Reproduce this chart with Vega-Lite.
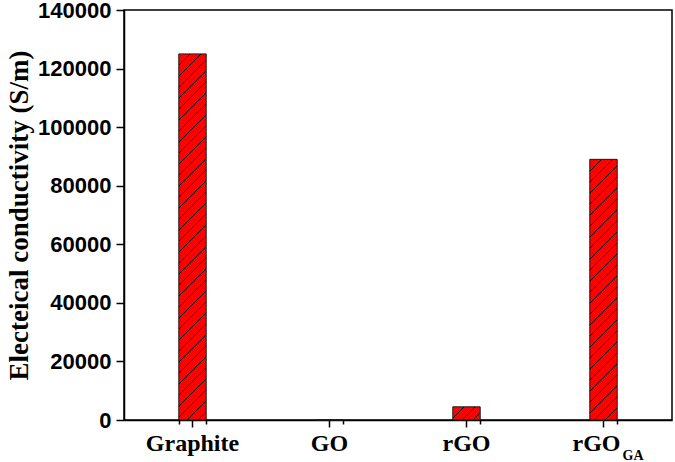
{
  "$schema": "https://vega.github.io/schema/vega-lite/v6.json",
  "width": 548,
  "height": 410,
  "autosize": {"type": "none"},
  "padding": {"left": 124, "top": 10, "right": 3, "bottom": 42},
  "background": "white",
  "config": {
    "view": {"stroke": "#000", "strokeWidth": 1.5},
    "axis": {"domainColor": "#000", "domainWidth": 1.5, "tickColor": "#000", "tickWidth": 1.5, "labelColor": "#000", "titleColor": "#000", "grid": false}
  },
  "data": {"values": [
    {"material": "Graphite", "conductivity": 125000},
    {"material": "GO", "conductivity": 0},
    {"material": "rGO", "conductivity": 4500},
    {"material": "rGO_GA", "conductivity": 89000}
  ]},
  "layer": [
    {
      "mark": {"type": "bar", "stroke": "#1a1a1a", "strokeWidth": 1},
      "encoding": {
        "x": {"field": "material", "type": "nominal", "sort": null,
          "scale": {"paddingInner": 0.8, "paddingOuter": 0.4},
          "axis": {"orient": "bottom", "title": null, "labelAngle": 0, "tickSize": 7, "labelPadding": 4,
            "labelFont": "Liberation Serif", "labelFontWeight": "bold", "labelFontSize": 24,
            "labelExpr": "datum.value === 'rGO_GA' ? 'rGO' : datum.value",
            "labelOffset": {"condition": {"test": "datum.value === 'rGO_GA'", "value": -7}, "value": 0}}},
        "y": {"field": "conductivity", "type": "quantitative",
          "scale": {"domain": [0, 140000], "nice": false},
          "axis": {"title": "Electeical conductivity (S/m)", "titleFont": "Liberation Serif", "titleFontWeight": "bold", "titleFontSize": 27, "titlePadding": 4,
            "values": [0, 10000, 20000, 30000, 40000, 50000, 60000, 70000, 80000, 90000, 100000, 110000, 120000, 130000, 140000],
            "format": "d",
            "labelExpr": "datum.value % 20000 === 0 ? datum.label : ''",
            "tickSize": {"condition": {"test": "datum.value % 20000 === 0", "value": 8}, "value": 4},
            "labelFont": "Liberation Sans", "labelFontWeight": "bold", "labelFontSize": 22, "labelPadding": 5}},
        "fill": {
          "condition": [
            {"test": "datum.material === 'Graphite'", "value": {"gradient": "linear", "x1": 0, "y1": 0, "x2": 0.089464, "y2": 1.19526, "stops": [
              {"offset":0,"color":"#000"},{"offset":0.0028,"color":"#000"},{"offset":0.0028,"color":"red"},{"offset":0.025,"color":"red"},
              {"offset":0.025,"color":"#000"},{"offset":0.0278,"color":"#000"},{"offset":0.0278,"color":"red"},{"offset":0.05,"color":"red"},
              {"offset":0.05,"color":"#000"},{"offset":0.0528,"color":"#000"},{"offset":0.0528,"color":"red"},{"offset":0.075,"color":"red"},
              {"offset":0.075,"color":"#000"},{"offset":0.0778,"color":"#000"},{"offset":0.0778,"color":"red"},{"offset":0.1,"color":"red"},
              {"offset":0.1,"color":"#000"},{"offset":0.1028,"color":"#000"},{"offset":0.1028,"color":"red"},{"offset":0.125,"color":"red"},
              {"offset":0.125,"color":"#000"},{"offset":0.1278,"color":"#000"},{"offset":0.1278,"color":"red"},{"offset":0.15,"color":"red"},
              {"offset":0.15,"color":"#000"},{"offset":0.1528,"color":"#000"},{"offset":0.1528,"color":"red"},{"offset":0.175,"color":"red"},
              {"offset":0.175,"color":"#000"},{"offset":0.1778,"color":"#000"},{"offset":0.1778,"color":"red"},{"offset":0.2,"color":"red"},
              {"offset":0.2,"color":"#000"},{"offset":0.2028,"color":"#000"},{"offset":0.2028,"color":"red"},{"offset":0.225,"color":"red"},
              {"offset":0.225,"color":"#000"},{"offset":0.2278,"color":"#000"},{"offset":0.2278,"color":"red"},{"offset":0.25,"color":"red"},
              {"offset":0.25,"color":"#000"},{"offset":0.2528,"color":"#000"},{"offset":0.2528,"color":"red"},{"offset":0.275,"color":"red"},
              {"offset":0.275,"color":"#000"},{"offset":0.2778,"color":"#000"},{"offset":0.2778,"color":"red"},{"offset":0.3,"color":"red"},
              {"offset":0.3,"color":"#000"},{"offset":0.3028,"color":"#000"},{"offset":0.3028,"color":"red"},{"offset":0.325,"color":"red"},
              {"offset":0.325,"color":"#000"},{"offset":0.3278,"color":"#000"},{"offset":0.3278,"color":"red"},{"offset":0.35,"color":"red"},
              {"offset":0.35,"color":"#000"},{"offset":0.3528,"color":"#000"},{"offset":0.3528,"color":"red"},{"offset":0.375,"color":"red"},
              {"offset":0.375,"color":"#000"},{"offset":0.3778,"color":"#000"},{"offset":0.3778,"color":"red"},{"offset":0.4,"color":"red"},
              {"offset":0.4,"color":"#000"},{"offset":0.4028,"color":"#000"},{"offset":0.4028,"color":"red"},{"offset":0.425,"color":"red"},
              {"offset":0.425,"color":"#000"},{"offset":0.4278,"color":"#000"},{"offset":0.4278,"color":"red"},{"offset":0.45,"color":"red"},
              {"offset":0.45,"color":"#000"},{"offset":0.4528,"color":"#000"},{"offset":0.4528,"color":"red"},{"offset":0.475,"color":"red"},
              {"offset":0.475,"color":"#000"},{"offset":0.4778,"color":"#000"},{"offset":0.4778,"color":"red"},{"offset":0.5,"color":"red"},
              {"offset":0.5,"color":"#000"},{"offset":0.5028,"color":"#000"},{"offset":0.5028,"color":"red"},{"offset":0.525,"color":"red"},
              {"offset":0.525,"color":"#000"},{"offset":0.5278,"color":"#000"},{"offset":0.5278,"color":"red"},{"offset":0.55,"color":"red"},
              {"offset":0.55,"color":"#000"},{"offset":0.5528,"color":"#000"},{"offset":0.5528,"color":"red"},{"offset":0.575,"color":"red"},
              {"offset":0.575,"color":"#000"},{"offset":0.5778,"color":"#000"},{"offset":0.5778,"color":"red"},{"offset":0.6,"color":"red"},
              {"offset":0.6,"color":"#000"},{"offset":0.6028,"color":"#000"},{"offset":0.6028,"color":"red"},{"offset":0.625,"color":"red"},
              {"offset":0.625,"color":"#000"},{"offset":0.6278,"color":"#000"},{"offset":0.6278,"color":"red"},{"offset":0.65,"color":"red"},
              {"offset":0.65,"color":"#000"},{"offset":0.6528,"color":"#000"},{"offset":0.6528,"color":"red"},{"offset":0.675,"color":"red"},
              {"offset":0.675,"color":"#000"},{"offset":0.6778,"color":"#000"},{"offset":0.6778,"color":"red"},{"offset":0.7,"color":"red"},
              {"offset":0.7,"color":"#000"},{"offset":0.7028,"color":"#000"},{"offset":0.7028,"color":"red"},{"offset":0.725,"color":"red"},
              {"offset":0.725,"color":"#000"},{"offset":0.7278,"color":"#000"},{"offset":0.7278,"color":"red"},{"offset":0.75,"color":"red"},
              {"offset":0.75,"color":"#000"},{"offset":0.7528,"color":"#000"},{"offset":0.7528,"color":"red"},{"offset":0.775,"color":"red"},
              {"offset":0.775,"color":"#000"},{"offset":0.7778,"color":"#000"},{"offset":0.7778,"color":"red"},{"offset":0.8,"color":"red"},
              {"offset":0.8,"color":"#000"},{"offset":0.8028,"color":"#000"},{"offset":0.8028,"color":"red"},{"offset":0.825,"color":"red"},
              {"offset":0.825,"color":"#000"},{"offset":0.8278,"color":"#000"},{"offset":0.8278,"color":"red"},{"offset":0.85,"color":"red"},
              {"offset":0.85,"color":"#000"},{"offset":0.8528,"color":"#000"},{"offset":0.8528,"color":"red"},{"offset":0.875,"color":"red"},
              {"offset":0.875,"color":"#000"},{"offset":0.8778,"color":"#000"},{"offset":0.8778,"color":"red"},{"offset":0.9,"color":"red"},
              {"offset":0.9,"color":"#000"},{"offset":0.9028,"color":"#000"},{"offset":0.9028,"color":"red"},{"offset":0.925,"color":"red"},
              {"offset":0.925,"color":"#000"},{"offset":0.9278,"color":"#000"},{"offset":0.9278,"color":"red"},{"offset":0.95,"color":"red"},
              {"offset":0.95,"color":"#000"},{"offset":0.9528,"color":"#000"},{"offset":0.9528,"color":"red"},{"offset":0.975,"color":"red"},
              {"offset":0.975,"color":"#000"},{"offset":0.9778,"color":"#000"},{"offset":0.9778,"color":"red"},{"offset":1,"color":"red"}
            ]}},
            {"test": "datum.material === 'rGO_GA'", "value": {"gradient": "linear", "x1": 0, "y1": 0, "x2": 0.17553, "y2": 1.66971, "stops": [
              {"offset":0,"color":"#000"},{"offset":0.0028,"color":"#000"},{"offset":0.0028,"color":"red"},{"offset":0.025,"color":"red"},
              {"offset":0.025,"color":"#000"},{"offset":0.0278,"color":"#000"},{"offset":0.0278,"color":"red"},{"offset":0.05,"color":"red"},
              {"offset":0.05,"color":"#000"},{"offset":0.0528,"color":"#000"},{"offset":0.0528,"color":"red"},{"offset":0.075,"color":"red"},
              {"offset":0.075,"color":"#000"},{"offset":0.0778,"color":"#000"},{"offset":0.0778,"color":"red"},{"offset":0.1,"color":"red"},
              {"offset":0.1,"color":"#000"},{"offset":0.1028,"color":"#000"},{"offset":0.1028,"color":"red"},{"offset":0.125,"color":"red"},
              {"offset":0.125,"color":"#000"},{"offset":0.1278,"color":"#000"},{"offset":0.1278,"color":"red"},{"offset":0.15,"color":"red"},
              {"offset":0.15,"color":"#000"},{"offset":0.1528,"color":"#000"},{"offset":0.1528,"color":"red"},{"offset":0.175,"color":"red"},
              {"offset":0.175,"color":"#000"},{"offset":0.1778,"color":"#000"},{"offset":0.1778,"color":"red"},{"offset":0.2,"color":"red"},
              {"offset":0.2,"color":"#000"},{"offset":0.2028,"color":"#000"},{"offset":0.2028,"color":"red"},{"offset":0.225,"color":"red"},
              {"offset":0.225,"color":"#000"},{"offset":0.2278,"color":"#000"},{"offset":0.2278,"color":"red"},{"offset":0.25,"color":"red"},
              {"offset":0.25,"color":"#000"},{"offset":0.2528,"color":"#000"},{"offset":0.2528,"color":"red"},{"offset":0.275,"color":"red"},
              {"offset":0.275,"color":"#000"},{"offset":0.2778,"color":"#000"},{"offset":0.2778,"color":"red"},{"offset":0.3,"color":"red"},
              {"offset":0.3,"color":"#000"},{"offset":0.3028,"color":"#000"},{"offset":0.3028,"color":"red"},{"offset":0.325,"color":"red"},
              {"offset":0.325,"color":"#000"},{"offset":0.3278,"color":"#000"},{"offset":0.3278,"color":"red"},{"offset":0.35,"color":"red"},
              {"offset":0.35,"color":"#000"},{"offset":0.3528,"color":"#000"},{"offset":0.3528,"color":"red"},{"offset":0.375,"color":"red"},
              {"offset":0.375,"color":"#000"},{"offset":0.3778,"color":"#000"},{"offset":0.3778,"color":"red"},{"offset":0.4,"color":"red"},
              {"offset":0.4,"color":"#000"},{"offset":0.4028,"color":"#000"},{"offset":0.4028,"color":"red"},{"offset":0.425,"color":"red"},
              {"offset":0.425,"color":"#000"},{"offset":0.4278,"color":"#000"},{"offset":0.4278,"color":"red"},{"offset":0.45,"color":"red"},
              {"offset":0.45,"color":"#000"},{"offset":0.4528,"color":"#000"},{"offset":0.4528,"color":"red"},{"offset":0.475,"color":"red"},
              {"offset":0.475,"color":"#000"},{"offset":0.4778,"color":"#000"},{"offset":0.4778,"color":"red"},{"offset":0.5,"color":"red"},
              {"offset":0.5,"color":"#000"},{"offset":0.5028,"color":"#000"},{"offset":0.5028,"color":"red"},{"offset":0.525,"color":"red"},
              {"offset":0.525,"color":"#000"},{"offset":0.5278,"color":"#000"},{"offset":0.5278,"color":"red"},{"offset":0.55,"color":"red"},
              {"offset":0.55,"color":"#000"},{"offset":0.5528,"color":"#000"},{"offset":0.5528,"color":"red"},{"offset":0.575,"color":"red"},
              {"offset":0.575,"color":"#000"},{"offset":0.5778,"color":"#000"},{"offset":0.5778,"color":"red"},{"offset":0.6,"color":"red"},
              {"offset":0.6,"color":"#000"},{"offset":0.6028,"color":"#000"},{"offset":0.6028,"color":"red"},{"offset":0.625,"color":"red"},
              {"offset":0.625,"color":"#000"},{"offset":0.6278,"color":"#000"},{"offset":0.6278,"color":"red"},{"offset":0.65,"color":"red"},
              {"offset":0.65,"color":"#000"},{"offset":0.6528,"color":"#000"},{"offset":0.6528,"color":"red"},{"offset":0.675,"color":"red"},
              {"offset":0.675,"color":"#000"},{"offset":0.6778,"color":"#000"},{"offset":0.6778,"color":"red"},{"offset":0.7,"color":"red"}
            ]}},
            {"test": "datum.material === 'rGO'", "value": {"gradient": "linear", "x1": 0, "y1": 0, "x2": 13.0408, "y2": 6.2729, "stops": [
              {"offset":0,"color":"#000"},{"offset":0.0028,"color":"#000"},{"offset":0.0028,"color":"red"},{"offset":0.025,"color":"red"},
              {"offset":0.025,"color":"#000"},{"offset":0.0278,"color":"#000"},{"offset":0.0278,"color":"red"},{"offset":0.05,"color":"red"},
              {"offset":0.05,"color":"#000"},{"offset":0.0528,"color":"#000"},{"offset":0.0528,"color":"red"},{"offset":0.075,"color":"red"},
              {"offset":0.075,"color":"#000"},{"offset":0.0778,"color":"#000"},{"offset":0.0778,"color":"red"},{"offset":0.1,"color":"red"},
              {"offset":0.1,"color":"#000"},{"offset":0.1028,"color":"#000"},{"offset":0.1028,"color":"red"},{"offset":0.125,"color":"red"}
            ]}}
          ],
          "value": "red"
        }
      }
    },
    {
      "transform": [{"filter": "datum.material === 'rGO_GA'"}],
      "mark": {"type": "text", "text": "GA", "font": "Liberation Serif", "fontWeight": "bold", "fontSize": 14, "align": "left", "baseline": "alphabetic", "dx": 19, "dy": 40, "color": "#000"},
      "encoding": {
        "x": {"field": "material", "type": "nominal", "sort": null,
          "axis": {"orient": "bottom", "tickBand": "extent", "labels": false, "domain": false, "tickSize": 4, "title": null}},
        "y": {"datum": 0, "type": "quantitative"}
      }
    }
  ],
  "resolve": {"axis": {"x": "independent"}}
}
